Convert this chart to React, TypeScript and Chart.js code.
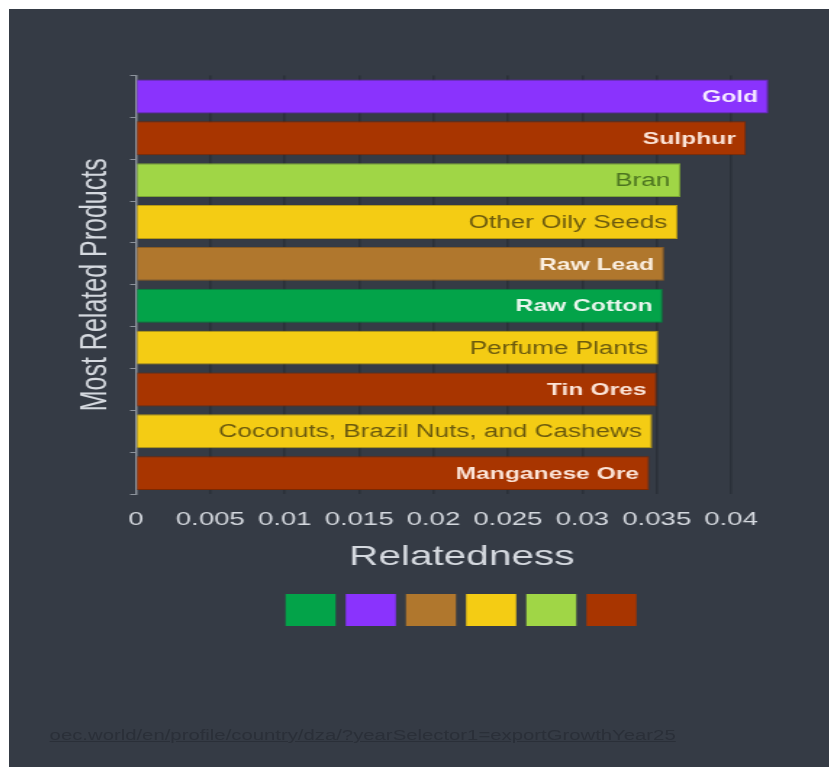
import React, { useEffect, useRef } from 'react';
import { Chart, registerables } from 'chart.js';

Chart.register(...registerables);

const products = [
  'Gold',
  'Sulphur',
  'Bran',
  'Other Oily Seeds',
  'Raw Lead',
  'Raw Cotton',
  'Perfume Plants',
  'Tin Ores',
  'Coconuts, Brazil Nuts, and Cashews',
  'Manganese Ore',
];
const relatedness = [0.0425, 0.041, 0.0366, 0.0364, 0.0355, 0.0354, 0.0351, 0.035, 0.0347, 0.0345];
const productGroups = [
  'Precious Metals',
  'Mineral Products',
  'Foodstuffs',
  'Vegetable Products',
  'Metals',
  'Textiles',
  'Vegetable Products',
  'Mineral Products',
  'Vegetable Products',
  'Mineral Products',
];
const groupNames = ['Textiles', 'Precious Metals', 'Metals', 'Vegetable Products', 'Foodstuffs', 'Mineral Products'];
const groupColors = ['#03a349', '#8a33fd', '#b0772d', '#f4cc14', '#a0d646', '#a83500'];
const groupBorders = ['#05803c', '#6c22c8', '#8a5c22', '#b89a12', '#7ca634', '#7e2800'];
const groupTextColors = ['#eaf6ee', '#f5eaff', '#fbefe0', '#6b5a0e', '#4c7420', '#fbe3d6'];
const groupTextBold = [true, true, true, false, false, true];
const xTickLabels = ['0', '0.005', '0.01', '0.015', '0.02', '0.025', '0.03', '0.035', '0.04'];
const xTitle = 'Relatedness';
const yTitle = 'Most Related Products';
const linkText = 'oec.world/en/profile/country/dza/?yearSelector1=exportGrowthYear25';

const FONT = '"Liberation Sans", Arial, sans-serif';
const SX = 1.45;
const CW = 566;
const CH = 640;

const groupIndex = (i: number) => groupNames.indexOf(productGroups[i]);

const barLabelPlugin = {
  id: 'barLabels',
  afterDatasetsDraw(chart: any) {
    const meta = chart.getDatasetMeta(0);
    const ctx = chart.ctx;
    meta.data.forEach((bar: any, i: number) => {
      const g = groupIndex(i);
      ctx.save();
      ctx.font = (groupTextBold[g] ? 'bold 17px ' : '18px ') + FONT;
      ctx.fillStyle = groupTextColors[g];
      ctx.textAlign = 'right';
      ctx.textBaseline = 'middle';
      ctx.fillText(products[i], bar.x - 7, bar.y + 1);
      ctx.restore();
    });
  },
};

export default function App() {
  const ref = useRef<HTMLCanvasElement | null>(null);
  useEffect(() => {
    if (!ref.current) return;
    const chart = new Chart(ref.current, {
      type: 'bar',
      data: {
        labels: products,
        datasets: [
          {
            label: 'Relatedness',
            data: relatedness,
            backgroundColor: relatedness.map((_, i) => groupColors[groupIndex(i)]),
            borderColor: relatedness.map((_, i) => groupBorders[groupIndex(i)]),
            borderWidth: 1,
            barPercentage: 0.81,
            categoryPercentage: 1,
          },
        ],
      },
      options: {
        indexAxis: 'y',
        responsive: false,
        maintainAspectRatio: false,
        animation: false,
        layout: { padding: { top: 66.5, left: 42, right: 29, bottom: 13 } },
        scales: {
          x: {
            type: 'linear',
            min: 0,
            max: 0.0438,
            border: { display: false },
            grid: { color: '#2b3039', lineWidth: 1.5, drawTicks: false },
            ticks: {
              stepSize: 0.005,
              includeBounds: false,
              padding: 19.5,
              color: '#d5d9df',
              font: { family: FONT, size: 19, lineHeight: 0.6 },
              maxRotation: 0,
              autoSkip: false,
              callback: (_v: any, i: number) => xTickLabels[i],
            },
            title: {
              display: true,
              text: xTitle,
              color: '#d5d9df',
              font: { family: FONT, size: 28, lineHeight: 0.8 },
              padding: { top: 1.5, bottom: 19.6 },
            },
          },
          y: {
            type: 'category',
            offset: true,
            border: { display: true, color: '#8d939c', width: 1.5 },
            grid: { drawOnChartArea: false, drawTicks: true, tickLength: 4, color: '#8d939c', offset: true },
            ticks: { display: false },
            title: {
              display: true,
              text: yTitle,
              color: '#d5d9df',
              font: { family: FONT, size: 25 },
              padding: { top: 3.5, bottom: 8 },
            },
          },
        },
        plugins: {
          tooltip: { enabled: false },
          legend: {
            display: true,
            position: 'bottom',
            fullSize: false,
            labels: {
              boxWidth: 34.5,
              boxHeight: 32,
              padding: 6,
              font: { size: 2 },
              generateLabels: () =>
                groupNames.map((_n, k) => ({
                  text: '',
                  fillStyle: groupColors[k],
                  strokeStyle: groupColors[k],
                  lineWidth: 0,
                  hidden: false,
                  datasetIndex: 0,
                })),
            },
          },
        },
      },
      plugins: [barLabelPlugin],
    } as any);
    return () => chart.destroy();
  }, []);

  return (
    <div
      style={{
        position: 'fixed',
        left: 9,
        top: 9,
        right: 0,
        bottom: 0,
        background: '#353b45',
        overflow: 'hidden',
      }}
    >
      <div style={{ width: CW, transform: `scaleX(${SX})`, transformOrigin: '0 0' }}>
        <canvas ref={ref} width={CW} height={CH} style={{ display: 'block' }} />
        <div
          style={{
            marginTop: 78,
            paddingLeft: 28,
            fontFamily: FONT,
            fontSize: 14,
            color: '#2a2f38',
            textDecoration: 'underline',
            whiteSpace: 'nowrap',
          }}
        >
          {linkText}
        </div>
      </div>
    </div>
  );
}
